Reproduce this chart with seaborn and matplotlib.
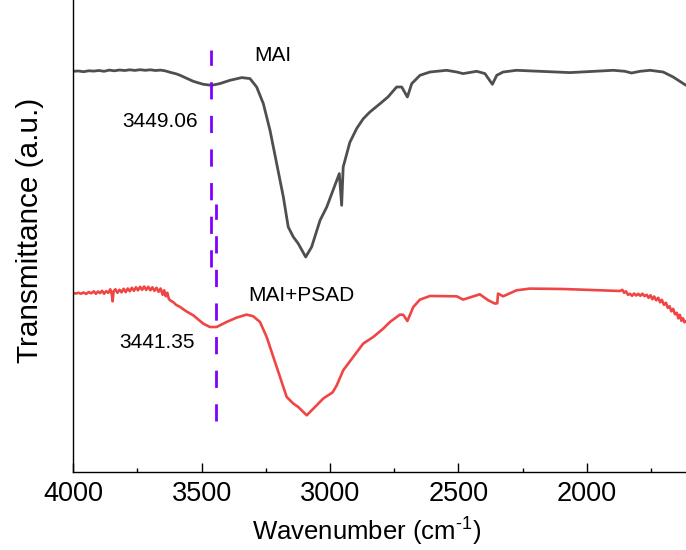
import matplotlib
matplotlib.use("Agg")
import matplotlib.pyplot as plt
import seaborn as sns
import pandas as pd

sns.set_theme(style="white")
plt.rcParams['font.family'] = ['Liberation Sans', 'DejaVu Sans']
plt.rcParams['mathtext.fontset'] = 'custom'
plt.rcParams['mathtext.rm'] = 'Liberation Sans'

# MAI spectrum (wavenumber cm-1, transmittance a.u.)
mai_wn = [4000, 3980, 3960, 3940, 3920, 3900, 3880, 3860, 3840, 3820, 3800, 3780, 3760,
          3740, 3720, 3700, 3680, 3660, 3640, 3620, 3600, 3584, 3533, 3494, 3461, 3429,
          3390, 3344, 3312, 3286, 3260, 3234, 3208, 3182, 3163, 3143, 3124, 3095, 3072,
          3039, 3013, 2974, 2964, 2955, 2949, 2923, 2896, 2871, 2845, 2806, 2774, 2741,
          2721, 2699, 2682, 2650, 2611, 2546, 2507, 2482, 2429, 2397, 2368, 2351, 2326,
          2274, 2066, 1897, 1852, 1826, 1793, 1754, 1703, 1664, 1614]
mai_t = [401, 401.3, 400.6, 401.5, 401.2, 401.8, 401, 402.2, 401.5, 402.3, 401.8, 402.5, 401.9,
         402.6, 402, 402.5, 401.8, 402.2, 401.3, 399.8, 398.5, 397, 391, 388, 387, 388.7,
         392, 394.7, 393.7, 385.3, 368.7, 342, 308.7, 275.3, 245.3, 235.3, 228.7, 215.3, 225.3,
         252, 265.3, 292, 298.7, 267, 305.3, 330, 344, 353.5, 360.3, 368.5, 375.5, 385.3,
         385.3, 375.3, 388.7, 397, 400.3, 402, 400.3, 398.7, 401, 398.7, 388, 397, 400.3,
         402, 399.7, 402, 401, 399.3, 401, 402, 400.3, 395.3, 387]

# MAI+PSAD spectrum
psad_wn = [4000, 3990, 3980, 3970, 3960, 3950, 3940, 3930, 3920, 3912, 3904, 3896, 3888,
           3880, 3872, 3864, 3856, 3850, 3847, 3843, 3836, 3828, 3820, 3812, 3804, 3796,
           3788, 3780, 3772, 3764, 3756, 3748, 3740, 3732, 3724, 3716, 3708, 3700, 3692,
           3684, 3676, 3668, 3660, 3652, 3646, 3640, 3634, 3628, 3623, 3610, 3600, 3584,
           3560, 3533, 3494, 3468, 3442, 3403, 3364, 3325, 3299, 3273, 3247, 3221, 3195,
           3169, 3143, 3124, 3091, 3065, 3027, 2990, 2974, 2949, 2910, 2871, 2832, 2793,
           2767, 2728, 2715, 2699, 2676, 2650, 2611, 2507, 2482, 2417, 2384, 2358, 2349,
           2346, 2326, 2274, 2222, 2092, 1871, 1862, 1855, 1848, 1840, 1832, 1824, 1816,
           1808, 1800, 1792, 1784, 1776, 1767, 1760, 1752, 1745, 1738, 1730, 1722, 1715,
           1708, 1700, 1692, 1685, 1678, 1671, 1664, 1657, 1650, 1644, 1638, 1632, 1626,
           1620, 1614]
psad_t = [179.3, 178.8, 179.5, 178.6, 179.8, 178.4, 180.2, 179, 181, 178.5, 180.8, 179.2, 181.5,
          178.6, 181.2, 179.5, 183, 178, 171, 181, 183, 179.5, 182.5, 180, 183.5, 180.2,
          183.8, 181, 184.5, 181.5, 185, 182, 185.5, 182.5, 185.8, 182.4, 185.5, 182, 185,
          181.5, 184.5, 180.5, 183.8, 177.5, 182, 176, 179.5, 173.5, 172, 170, 167.5, 165.3,
          161, 157, 148.7, 145.3, 145.3, 150.3, 154.7, 157.7, 156, 150.3, 135.3, 115.3, 95.3,
          75.3, 68.7, 65.3, 57, 63.7, 73.7, 80, 87, 102, 115.3, 128.7, 135.3, 143.7,
          150.3, 157.7, 157.5, 151.3, 165.3, 172.7, 176.3, 176, 172.7, 178, 172, 168.7, 169,
          178.7, 176, 182, 183.7, 183.3, 181.3, 182.5, 179.5, 181, 177.5, 178.5, 176.5, 178.8,
          176.8, 178.5, 176.5, 178.6, 176.2, 177.5, 174.5, 177, 173, 175.8, 172, 174.5, 170,
          172.5, 167.5, 169.5, 164.5, 166, 161, 163.5, 158, 159.5, 154, 157.5, 151.5, 154,
          150, 151]

# dashed guide lines: (position, lower, upper)
guide_x = [3462, 3445]
guide_lo = [205, 51]
guide_hi = [422, 268]

labels = ["MAI", "3449.06", "MAI+PSAD", "3441.35"]
label_x = [3222, 3662, 3111, 3675]
label_y = [417, 351, 177, 130]

fig = plt.figure(figsize=(6.86, 5.5), dpi=100)
ax = fig.add_axes([73.3 / 686, (550 - 472.3) / 550, 1 - 73.3 / 686, 472.3 / 550])

df_mai = pd.DataFrame({"wn": mai_wn, "t": mai_t})
df_psad = pd.DataFrame({"wn": psad_wn, "t": psad_t})
sns.lineplot(data=df_mai, x="wn", y="t", color="#4f4f4f", lw=2.0, ax=ax, sort=False)
sns.lineplot(data=df_psad, x="wn", y="t", color="#f04545", lw=1.9, ax=ax, sort=False)

ax.vlines(guide_x, guide_lo, guide_hi, colors="#8000ff", lw=2.0,
          linestyles=[(0, (6.2, 5.9))])

for s, x, y in zip(labels, label_x, label_y):
    ax.text(x, y, s, fontsize=15, ha="center", va="center", color="black")

ax.set_xlim(4000, 1614)
ax.set_ylim(0, 472.3)
ax.set_xticks([4000, 3500, 3000, 2500, 2000])
ax.set_xticks([3750, 3250, 2750, 2250, 1750], minor=True)
ax.set_yticks([])
ax.tick_params(axis="x", which="major", direction="in", length=6.5, width=1.0,
               labelsize=19.5, pad=6, color="black", labelcolor="black", bottom=True)
ax.tick_params(axis="x", which="minor", direction="in", length=3, width=1.0,
               color="black", bottom=True)

for side in ["top", "right"]:
    ax.spines[side].set_visible(False)
for side in ["left", "bottom"]:
    ax.spines[side].set_color("black")
    ax.spines[side].set_linewidth(1.0)

ax.set_xlabel("Wavenumber (cm$^{\\mathregular{\u2010}1}$)", fontsize=18.5, color="black")
ax.xaxis.set_label_coords((367 - 73.3) / 612.7, -(530.7 - 472.3) / 472.3)
ax.xaxis.label.set_va("center")
ax.set_ylabel("Transmittance (a.u.)", fontsize=21.4, color="black")
ax.yaxis.set_label_coords((30 - 73.3) / 612.7, (472.3 - 230) / 472.3)
ax.yaxis.label.set_va("center")

fig.savefig("out.png", dpi=100)
